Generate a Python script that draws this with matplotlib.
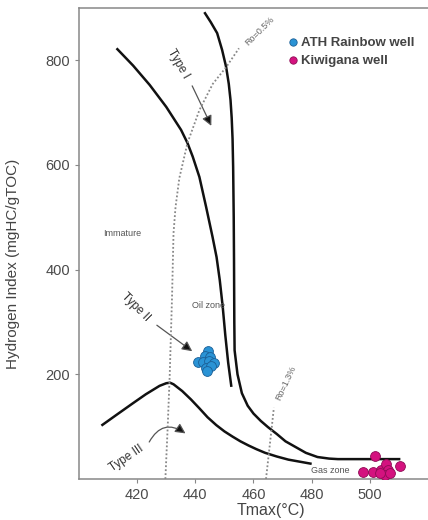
import matplotlib.pyplot as plt
from matplotlib.patches import FancyArrowPatch

plt.rcParams['font.family'] = ['Liberation Sans', 'DejaVu Sans']

# Kerogen evolution pathways (Tmax in degC, HI in mgHC/gTOC)
type1_tmax = [443.1, 445.3, 447.5, 449.2, 450.6, 451.5, 452.1, 452.5, 452.8, 453.0, 453.2, 453.3,
              453.4, 453.5, 454.5, 456, 458, 460, 462.5, 465, 468, 471, 474.5, 478, 482, 486,
              489, 495, 502, 510.5]
type1_hi = [892, 873, 852, 820, 787, 755, 724, 690, 650, 596, 500, 418,
            300, 246, 200, 164, 140, 125, 111, 99, 86, 72, 61, 50, 42, 39,
            38, 38, 38, 38]

type2_tmax = [412.9, 418.6, 424.3, 430.0, 435.1, 437.3, 439.1, 441.4, 443.7, 445.9, 447.3,
              448.4, 449.4, 450.3, 451.3, 452.4]
type2_hi = [823, 790, 753, 711, 667, 642, 616, 577, 520, 463, 424,
            380, 330, 275, 222, 176]

type3_tmax = [407.7, 413, 418.6, 423, 427.7, 430.0, 431.3, 432.5, 435.5, 438.5, 441.4, 444.2,
              447.2, 450, 452.8, 455.5, 458.3, 461, 464, 468, 472, 476, 480]
type3_hi = [102, 123, 145, 162, 178, 183, 184, 181, 168, 152, 135, 118,
            103, 91, 81, 72, 64, 57, 50, 43, 37, 33, 29]

# Vitrinite reflectance iso-lines
ro05_tmax = [429.7, 430.5, 431.2, 432, 432.5, 433.2, 434.5, 437.3, 441.4, 446, 450.6, 455]
ro05_hi = [0, 100, 200, 350, 470, 520, 575, 642, 705, 755, 787, 823]
ro13_tmax = [464.3, 465.2, 466.2, 467]
ro13_hi = [0, 45, 95, 136]

# Samples
ath_tmax = [444.2, 443.4, 445.0, 440.8, 442.7, 444.8, 446.5, 443.6, 445.4, 443.9]
ath_hi = [245, 235, 234, 224, 224, 226, 222, 213, 216, 207]
kiw_tmax = [501.8, 497.8, 501.2, 504.0, 505.4, 506.3, 505.2, 510.3, 506.9, 503.5]
kiw_hi = [43, 14, 14, 18, 29, 17, 8, 25, 11, 11]

fig = plt.figure(figsize=(4.28, 5.2), dpi=100)
ax = fig.add_axes([79 / 428, 41 / 520, 349 / 428, 471 / 520])

curve_kw = dict(color='#111111', lw=1.8, solid_capstyle='butt', solid_joinstyle='round')
ax.plot(type1_tmax, type1_hi, **curve_kw)
ax.plot(type2_tmax, type2_hi, **curve_kw)
ax.plot(type3_tmax, type3_hi, **curve_kw)
ax.plot(ro05_tmax, ro05_hi, color='#888888', lw=1.3, ls=(0, (1, 1.2)))
ax.plot(ro13_tmax, ro13_hi, color='#888888', lw=1.3, ls=(0, (1, 1.2)))

ax.scatter(ath_tmax, ath_hi, s=50, color='#2a93d5', edgecolor='#1b5f96', lw=0.6,
           zorder=5, label='ATH Rainbow well')
ax.scatter(kiw_tmax, kiw_hi, s=50, color='#d4127f', edgecolor='#8e0c55', lw=0.6,
           zorder=5, label='Kiwigana well')

# zone and pathway annotations
ax.text(415, 470, 'Immature', fontsize=6.5, color='#555555', ha='center', va='center')
ax.text(439, 332, 'Oil zone', fontsize=6.5, color='#555555', ha='left', va='center')
ax.text(486.5, 17, 'Gas zone', fontsize=6.5, color='#555555', ha='center', va='center')
ax.text(462.3, 856, 'Ro=0.5%', fontsize=6.5, color='#666666', rotation=45,
        ha='center', va='center')
ax.text(471.2, 184, 'Ro=1.3%', fontsize=6.5, color='#666666', rotation=65,
        ha='center', va='center')

ax.text(434.2, 793, 'Type I', fontsize=8.5, color='#333333', rotation=-60,
        ha='center', va='center')
ax.text(419.4, 328, 'Type II', fontsize=8.5, color='#333333', rotation=-45,
        ha='center', va='center')
ax.text(416.3, 39.5, 'Type III', fontsize=8.5, color='#333333', rotation=34,
        ha='center', va='center')

arrow_kw = dict(arrowstyle='-|>,head_length=0.5,head_width=0.25', color='#555555',
                lw=0.9, mutation_scale=12)
for start, end, style in [((438.5, 756), (445.9, 670), 'arc3'),
                          ((426, 297), (439.7, 241), 'arc3'),
                          ((423.7, 66), (437.4, 84), 'arc3,rad=-0.6')]:
    arr = FancyArrowPatch(start, end, connectionstyle=style, **arrow_kw)
    ax.add_patch(arr)
    arr.set_facecolor('#111111')

ax.set_xlim(400, 520)
ax.set_ylim(0, 900)
ax.set_xticks([420, 440, 460, 480, 500])
ax.set_yticks([200, 400, 600, 800])
ax.spines['right'].set_visible(False)
for side in ['left', 'top', 'bottom']:
    ax.spines[side].set_color('#888888')
    ax.spines[side].set_linewidth(1.1)
ax.tick_params(length=3, width=0.8, color='#888888', labelsize=10.5, labelcolor='#4a4a4a')

ax.set_xlabel('Tmax(°C)', fontsize=11.5, color='#444444')
ax.set_ylabel('Hydrogen Index (mgHC/gTOC)', fontsize=11, color='#444444')
ax.xaxis.set_label_coords(0.55, -0.052)
ax.yaxis.set_label_coords(-0.17, 0.456)

leg = ax.legend(loc='upper left', bbox_to_anchor=(0.565, 0.965), frameon=False,
                handletextpad=0.2, handlelength=0.8, labelspacing=0.45,
                prop={'size': 9.5, 'weight': 'bold'}, markerscale=0.75)
for t in leg.get_texts():
    t.set_color('#444444')

fig.savefig('out.png', dpi=100)
